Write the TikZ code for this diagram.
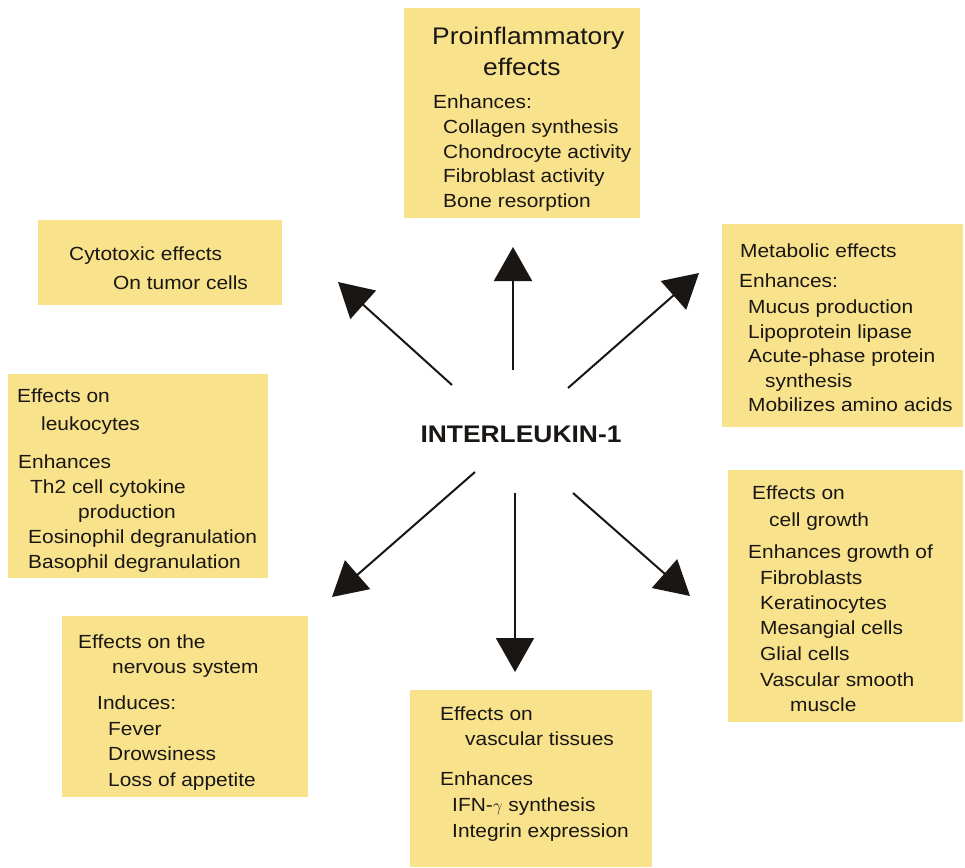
\documentclass[tikz,border=0pt]{standalone}
\usepackage{fontspec}
\setmainfont{Liberation Sans}[FakeStretch=1.1]
\usetikzlibrary{arrows.meta}
\definecolor{boxyellow}{RGB}{248,227,140}
\definecolor{ink}{RGB}{25,22,20}
\newcommand{\tline}[4]{\node[txt] (#1) at (#2,#3) {#4};}
\tikzset{
  box/.style={fill=boxyellow, draw=none},
  txt/.style={anchor=base west, inner sep=0pt, text=ink, font=\fontsize{19}{23}\selectfont},
  bigtxt/.style={txt, font=\fontsize{24}{28}\selectfont},
  arr/.style={line width=2pt, draw=ink, -{Triangle[length=34pt,width=38pt]}}
}
\begin{document}
\begin{tikzpicture}[x=1pt,y=-1pt]
\useasboundingbox (0,0) rectangle (965,867);
\fill[white] (0,0) rectangle (965,867);

% boxes
\path[box] (404,8) rectangle (640,218) node[pos=0.5,inner sep=0] (pro) {};
\path[box] (38,220) rectangle (282,305) node[pos=0.5,inner sep=0] (cyto) {};
\path[box] (722,224) rectangle (963,427) node[pos=0.5,inner sep=0] (meta) {};
\path[box] (8,374) rectangle (268,578) node[pos=0.5,inner sep=0] (leuk) {};
\path[box] (728,470) rectangle (963,722) node[pos=0.5,inner sep=0] (growth) {};
\path[box] (62,616) rectangle (308,797) node[pos=0.5,inner sep=0] (nerv) {};
\path[box] (410,690) rectangle (652,867) node[pos=0.5,inner sep=0] (vasc) {};

% proinflammatory
\node[bigtxt] (pro1) at (432,45) {Proinflammatory};
\node[bigtxt] (pro2) at (483,75) {effects};
\tline{pro3}{433}{108}{Enhances:}
\tline{pro4}{443}{133}{Collagen synthesis}
\tline{pro5}{443}{158}{Chondrocyte activity}
\tline{pro6}{443}{182}{Fibroblast activity}
\tline{pro7}{443}{207}{Bone resorption}

% cytotoxic
\tline{cyto1}{69}{260}{Cytotoxic effects}
\tline{cyto2}{113}{289}{On tumor cells}

% metabolic
\tline{meta1}{740}{257}{Metabolic effects}
\tline{meta2}{739}{287}{Enhances:}
\tline{meta3}{748}{313}{Mucus production}
\tline{meta4}{748}{338}{Lipoprotein lipase}
\tline{meta5}{748}{362}{Acute-phase protein}
\tline{meta6}{765}{387}{synthesis}
\tline{meta7}{748}{411}{Mobilizes amino acids}

% leukocytes
\tline{leuk1}{17}{402}{Effects on}
\tline{leuk2}{41}{430}{leukocytes}
\tline{leuk3}{18}{468}{Enhances}
\tline{leuk4}{30}{493}{Th2 cell cytokine}
\tline{leuk5}{78}{518}{production}
\tline{leuk6}{28}{543}{Eosinophil degranulation}
\tline{leuk7}{28}{568}{Basophil degranulation}

% cell growth
\tline{gro1}{752}{499}{Effects on}
\tline{gro2}{769}{526}{cell growth}
\tline{gro3}{748}{558}{Enhances growth of}
\tline{gro4}{760}{584}{Fibroblasts}
\tline{gro5}{760}{609}{Keratinocytes}
\tline{gro6}{760}{634}{Mesangial cells}
\tline{gro7}{760}{660}{Glial cells}
\tline{gro8}{760}{686}{Vascular smooth}
\tline{gro9}{790}{711}{muscle}

% nervous system
\tline{ner1}{78}{648}{Effects on the}
\tline{ner2}{112}{673}{nervous system}
\tline{ner3}{97}{709}{Induces:}
\tline{ner4}{108}{735}{Fever}
\tline{ner5}{108}{760}{Drowsiness}
\tline{ner6}{108}{786}{Loss of appetite}

% vascular
\tline{vas1}{440}{720}{Effects on}
\tline{vas2}{465}{745}{vascular tissues}
\tline{vas3}{440}{785}{Enhances}
\tline{vas4}{452}{811}{IFN-$\gamma$ synthesis}
\tline{vas5}{452}{837}{Integrin expression}

% center
\node[anchor=base, inner sep=0pt, text=ink, font=\fontsize{24}{28}\selectfont\bfseries] (il) at (521,442) {INTERLEUKIN-1};

% arrow coordinates
\coordinate (sU) at (513,370);  \coordinate (tU) at (513,247);
\coordinate (sUL) at (452,385); \coordinate (tUL) at (338,282);
\coordinate (sUR) at (568,388); \coordinate (tUR) at (699,273);
\coordinate (sLL) at (475,472); \coordinate (tLL) at (332,597);
\coordinate (sD) at (515,493);  \coordinate (tD) at (515,672);
\coordinate (sLR) at (573,493); \coordinate (tLR) at (690,596);

\draw[arr] (sU) -- (tU);
\draw[arr] (sUL) -- (tUL);
\draw[arr] (sUR) -- (tUR);
\draw[arr] (sLL) -- (tLL);
\draw[arr] (sD) -- (tD);
\draw[arr] (sLR) -- (tLR);
\end{tikzpicture}
\end{document}
